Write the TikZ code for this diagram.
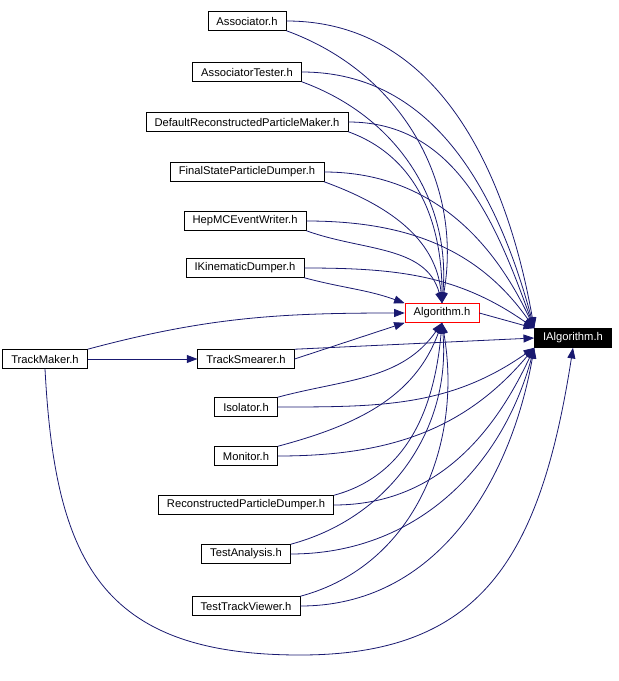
\documentclass[tikz,border=0pt]{standalone}
\usepackage{fontspec}
\setmainfont{Liberation Sans}
\usetikzlibrary{arrows.meta, positioning}
\definecolor{edgeblue}{HTML}{191970}

\begin{document}
\begin{tikzpicture}[x=0.75pt,y=-0.75pt,font=\fontsize{8.4}{10}\selectfont]
    \tikzstyle{file}=[draw=black,fill=white,minimum height=14.25pt,inner xsep=6.5pt,inner ysep=0pt]
    \tikzstyle{dep}=[draw=edgeblue,line width=0.6pt,-{Triangle[length=8pt,width=6pt]}]

    \useasboundingbox (0,0) rectangle (618,681);

    \node[file] (assoc) at (247,21) {Associator.h};
    \node[file] (assoctest) at (247,72) {AssociatorTester.h};
    \node[file] (defmaker) at (247,122) {DefaultReconstructedParticleMaker.h};
    \node[file] (fsdump) at (247,172) {FinalStateParticleDumper.h};
    \node[file] (hepmc) at (245,221) {HepMCEventWriter.h};
    \node[file] (kindump) at (245,268) {IKinematicDumper.h};
    \node[file,draw=red] (alg) at (442,313) {Algorithm.h};
    \node[file,fill=black,text=white] (ialg) at (573,338) {IAlgorithm.h};
    \node[file] (tmaker) at (45,359) {TrackMaker.h};
    \node[file] (tsmear) at (246,359) {TrackSmearer.h};
    \node[file] (iso) at (246,407) {Isolator.h};
    \node[file] (mon) at (246,456) {Monitor.h};
    \node[file] (rpdump) at (246,505) {ReconstructedParticleDumper.h};
    \node[file] (tana) at (246,554) {TestAnalysis.h};
    \node[file] (tview) at (246,606) {TestTrackViewer.h};

    % upper files
    \foreach \n/\a in {assoc/100, assoctest/105, defmaker/110, fsdump/115, hepmc/125} {
        \draw[dep] (\n.east) to[out=0,in=\a] (ialg.north west);
        \draw[dep] (\n.south east) to[out=-20,in=\a-20] (alg.north);
    }
    \draw[dep] (kindump.east) to[out=0,in=145] (ialg.north west);
    \draw[dep] (kindump.south east) to[out=-15,in=160] (alg.north west);
    % lower files
    \foreach \n/\a in {iso/215, mon/230, rpdump/245, tana/255, tview/260} {
        \draw[dep] (\n.east) to[out=0,in=\a] (ialg.south west);
        \draw[dep] (\n.north east) to[out=15,in=\a+20] (alg.south);
    }
    \draw[dep] (alg.east) -- (ialg.north west);
    \draw[dep] (tsmear.east) -- (alg.south west);
    \draw[dep] (tsmear.north east) -- (ialg.west);
    \draw[dep] (tmaker) -- (tsmear);
    \draw[dep] (tmaker.north east) to[out=15,in=180] (alg.west);
    \draw[dep] (tmaker.south) .. controls (55,560) and (100,655) .. (300,655)
        .. controls (480,655) and (540,560) .. (ialg.south);
\end{tikzpicture}
\end{document}
